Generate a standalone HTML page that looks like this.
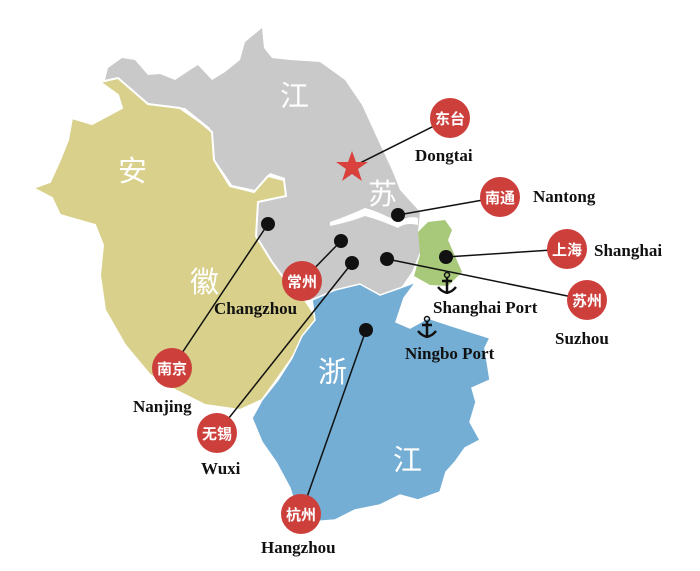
<!DOCTYPE html>
<html><head><meta charset="utf-8"><style>
html,body{margin:0;padding:0;background:#fff;}
svg{display:block}
.p{font-family:"Noto Sans CJK SC",sans-serif;fill:#fff;font-size:29px;}
.c{font-family:"Liberation Sans","Noto Sans CJK SC",sans-serif;fill:#fff;font-size:15px;font-weight:bold;}
.l{font-family:"Liberation Serif",serif;font-weight:bold;font-size:17px;fill:#111;}
</style></head><body>
<svg width="700" height="571" viewBox="0 0 700 571">
<!-- Jiangsu -->
<path d="M105,80 L108,68 L122,58 L135,60 L148,75 L160,74 L175,80 L190,70 L198,65 L212,80 L225,72 L240,60 L245,42 L262,28 L264,48 L272,58 L290,60 L320,62 L345,80 L362,105 L378,140 L392,170 L400,190 L420,212 L418,232 L420,252 L412,272 L398,292 L380,295 L360,284 L335,290 L312,300 L300,300 L285,282 L272,262 L256,238 L256,200 L285,196 L285,178 L270,173 L255,190 L232,185 L215,160 L210,128 L185,108 L152,106 L130,90 Z" fill="#c9c9c9"/>
<path d="M330,222 Q350,215 365,208 Q380,212 398,222 Q410,215 418,218 L418,225 Q405,222 398,228 Q380,220 365,216 Q350,222 330,226 Z" fill="#fff"/>
<!-- Anhui -->
<path d="M100,82 L118,78 L148,104 L180,108 L200,122 L212,132 L214,160 L230,186 L254,192 L268,176 L284,180 L286,196 L258,202 L256,236 L272,262 L288,284 L305,300 L318,320 L305,335 L292,358 L278,378 L262,400 L240,410 L205,405 L175,390 L150,375 L125,345 L105,310 L100,275 L103,245 L95,225 L60,215 L52,198 L33,188 L50,182 L60,160 L68,140 L72,118 L92,124 L122,108 L118,95 Z" fill="#d8d08b" stroke="#fff" stroke-width="2"/>
<!-- Shanghai -->
<path d="M418,232 L428,222 L445,220 L452,230 L448,240 L455,256 L462,272 L448,286 L430,285 L414,276 L420,255 Z" fill="#a8c97a"/>
<!-- Zhejiang -->
<path d="M312,300 L335,290 L360,284 L380,295 L400,288 L416,282 L404,298 L396,322 L410,328 L428,318 L452,326 L490,338 L485,348 L490,380 L472,388 L476,402 L470,422 L480,440 L465,448 L455,462 L446,472 L440,492 L418,500 L400,495 L380,505 L355,510 L335,520 L310,522 L296,508 L290,488 L276,462 L262,442 L252,418 L262,400 L278,380 L292,358 L302,336 L315,320 Z" fill="#74aed5" stroke="#fff" stroke-width="1.5"/>
<text class="p" x="280" y="106">江</text>
<text class="p" x="118" y="181">安</text>
<text class="p" x="368" y="204">苏</text>
<text class="p" x="190" y="292">徽</text>
<text class="p" x="318" y="382">浙</text>
<text class="p" x="393" y="470">江</text>
<g stroke="#111" stroke-width="1.5">
<line x1="450" y1="118" x2="352" y2="167"/>
<line x1="500" y1="197" x2="398" y2="215"/>
<line x1="567" y1="249" x2="446" y2="257"/>
<line x1="587" y1="300" x2="387" y2="259"/>
<line x1="302" y1="281" x2="341" y2="241"/>
<line x1="172" y1="368" x2="268" y2="224"/>
<line x1="217" y1="433" x2="352" y2="263"/>
<line x1="301" y1="514" x2="366" y2="330"/>
</g>
<g fill="#111">
<circle cx="268" cy="224" r="7"/><circle cx="341" cy="241" r="7"/><circle cx="352" cy="263" r="7"/>
<circle cx="387" cy="259" r="7"/><circle cx="398" cy="215" r="7"/><circle cx="446" cy="257" r="7"/><circle cx="366" cy="330" r="7"/>
</g>
<polygon points="352,151 356,162 368,162 358,169 362,181 352,174 342,181 346,169 336,162 348,162" fill="#d9413c"/>
<g fill="#cc3f3b">
<circle cx="450" cy="118" r="20"/><circle cx="500" cy="197" r="20"/><circle cx="567" cy="249" r="20"/>
<circle cx="587" cy="300" r="20"/><circle cx="302" cy="281" r="20"/><circle cx="172" cy="368" r="20"/>
<circle cx="217" cy="433" r="20"/><circle cx="301" cy="514" r="20"/>
</g>
<g text-anchor="middle">
<text class="c" x="450" y="124">东台</text><text class="c" x="500" y="203">南通</text>
<text class="c" x="567" y="255">上海</text><text class="c" x="587" y="306">苏州</text>
<text class="c" x="302" y="287">常州</text><text class="c" x="172" y="374">南京</text>
<text class="c" x="217" y="439">无锡</text><text class="c" x="301" y="520">杭州</text>
</g>
<text class="l" x="415" y="161">Dongtai</text>
<text class="l" x="533" y="202">Nantong</text>
<text class="l" x="594" y="256">Shanghai</text>
<text class="l" x="433" y="313">Shanghai Port</text>
<text class="l" x="555" y="344">Suzhou</text>
<text class="l" x="214" y="314">Changzhou</text>
<text class="l" x="405" y="359">Ningbo Port</text>
<text class="l" x="133" y="412">Nanjing</text>
<text class="l" x="201" y="474">Wuxi</text>
<text class="l" x="261" y="553">Hangzhou</text>
<g fill="none" stroke="#111" stroke-width="2.5">
<circle cx="447" cy="275" r="2.5" stroke-width="1.5"/><line x1="447" y1="278" x2="447" y2="294"/><path d="M438,287 Q447,298 456,287"/><line x1="442" y1="281" x2="452" y2="281"/>
<circle cx="427" cy="319" r="2.5" stroke-width="1.5"/><line x1="427" y1="322" x2="427" y2="338"/><path d="M418,331 Q427,342 436,331"/><line x1="422" y1="325" x2="432" y2="325"/>
</g>
</svg>
</body></html>
